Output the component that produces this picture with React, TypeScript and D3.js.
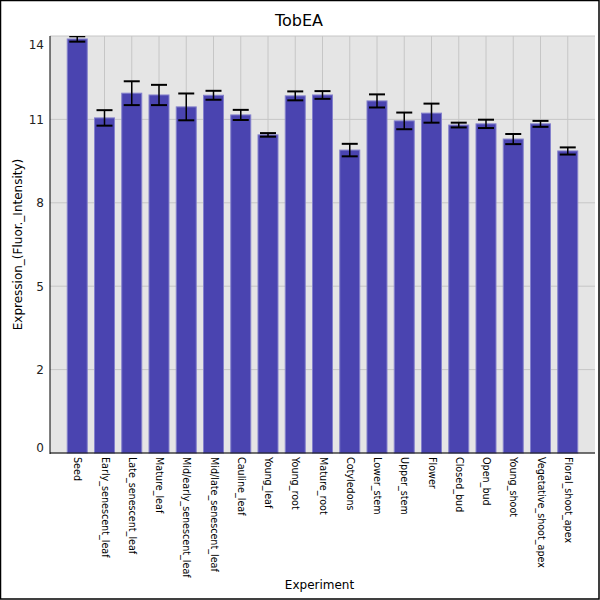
import { useEffect, useRef } from 'react'
import * as d3 from 'd3'

const CATEGORIES = [
  'Seed', 'Early_senescent_leaf', 'Late_senescent_leaf', 'Mature_leaf',
  'Mid/early_senescent_leaf', 'Mid/late_senescent_leaf', 'Cauline_leaf',
  'Young_leaf', 'Young_root', 'Mature_root', 'Cotyledons', 'Lower_stem',
  'Upper_stem', 'Flower', 'Closed_bud', 'Open_bud', 'Young_shoot',
  'Vegetative_shoot_apex', 'Floral_shoot_apex',
]
const MEANS = [
  13.9, 11.25, 12.08, 12.02, 11.62, 12.01, 11.35, 10.68, 11.99, 12.02,
  10.17, 11.82, 11.15, 11.41, 11.01, 11.05, 10.54, 11.05, 10.14,
]
const ERRORS = [
  0.09, 0.26, 0.4, 0.34, 0.45, 0.15, 0.17, 0.06, 0.15, 0.13,
  0.21, 0.22, 0.28, 0.32, 0.08, 0.14, 0.17, 0.1, 0.12,
]
const Y_TICKS = [0, 2.8, 5.6, 8.4, 11.2, 14]

export default function App() {
  const svgRef = useRef<SVGSVGElement>(null)
  const WIDTH = 600
  const HEIGHT = 600
  const M = { top: 36, right: 5, bottom: 147, left: 50 }
  const IW = WIDTH - M.left - M.right
  const IH = HEIGHT - M.top - M.bottom

  useEffect(() => {
    document.body.style.margin = '0'
    if (!svgRef.current) return
    const svg = d3.select(svgRef.current)
    svg.selectAll('*').remove()
    const font = '"DejaVu Sans", sans-serif'

    svg.append('rect').attr('width', WIDTH).attr('height', HEIGHT).attr('fill', '#fff')

    const x = d3.scalePoint<string>().domain(CATEGORIES).range([0, IW]).padding(1)
    const y = d3.scaleLinear().domain([0, 14]).range([IH, 0])

    const g = svg.append('g').attr('transform', `translate(${M.left},${M.top})`)
    g.append('rect').attr('width', IW).attr('height', IH).attr('fill', '#e5e5e5')

    // grid
    Y_TICKS.forEach(t =>
      g.append('line').attr('x1', 0).attr('x2', IW).attr('y1', y(t)).attr('y2', y(t))
        .attr('stroke', '#c6c6c6').attr('stroke-width', 1)
    )
    CATEGORIES.forEach(c =>
      g.append('line').attr('x1', x(c)!).attr('x2', x(c)!).attr('y1', 0).attr('y2', IH)
        .attr('stroke', '#c6c6c6').attr('stroke-width', 1)
    )

    // bars
    const bw = 20
    CATEGORIES.forEach((c, i) => {
      const cx = x(c)!
      g.append('rect')
        .attr('x', cx - bw / 2).attr('y', y(MEANS[i]))
        .attr('width', bw).attr('height', IH - y(MEANS[i]))
        .attr('fill', '#4a44b0').attr('stroke', '#8481cc').attr('stroke-width', 1)
    })

    // error bars
    const clip = g.append('clipPath').attr('id', 'plotclip')
    clip.append('rect').attr('width', IW).attr('height', IH)
    const eg = g.append('g').attr('clip-path', 'url(#plotclip)')
    CATEGORIES.forEach((c, i) => {
      const cx = x(c)!
      const hi = y(MEANS[i] + ERRORS[i])
      const lo = y(MEANS[i] - ERRORS[i])
      eg.append('line').attr('x1', cx).attr('x2', cx).attr('y1', hi).attr('y2', lo)
        .attr('stroke', '#000').attr('stroke-width', 1.5)
      ;[hi, lo].forEach(yy =>
        eg.append('line').attr('x1', cx - 8).attr('x2', cx + 8).attr('y1', yy).attr('y2', yy)
          .attr('stroke', '#000').attr('stroke-width', 2)
      )
    })

    // axes lines
    g.append('line').attr('x1', 0).attr('x2', 0).attr('y1', 0).attr('y2', IH + 1)
      .attr('stroke', '#000').attr('stroke-width', 1)
    g.append('line').attr('x1', 0).attr('x2', IW).attr('y1', IH).attr('y2', IH)
      .attr('stroke', '#000').attr('stroke-width', 1)

    // y tick labels (end labels kept inside the plot)
    Y_TICKS.forEach(t => {
      const yy = Math.min(Math.max(y(t), 9), IH - 5)
      g.append('text').attr('x', -6).attr('y', yy).attr('dy', '0.36em')
        .attr('text-anchor', 'end').attr('font-family', font).attr('font-size', 12)
        .attr('fill', '#222').text(String(Math.floor(t)))
    })

    // x tick labels
    CATEGORIES.forEach(c => {
      g.append('text')
        .attr('transform', `translate(${x(c)! - 3},${IH + 4}) rotate(90)`)
        .attr('font-family', font).attr('font-size', 9.6).attr('fill', '#000')
        .text(c)
    })

    // title and axis titles
    svg.append('text').attr('x', 299).attr('y', 26).attr('text-anchor', 'middle')
      .attr('font-family', font).attr('font-size', 16).attr('fill', '#000').text('TobEA')
    svg.append('text').attr('x', M.left + IW / 2 - 3).attr('y', 589).attr('text-anchor', 'middle')
      .attr('font-family', font).attr('font-size', 12).attr('fill', '#000').text('Experiment')
    svg.append('text').attr('transform', `translate(22,${M.top + IH / 2}) rotate(-90)`)
      .attr('text-anchor', 'middle').attr('font-family', font).attr('font-size', 12)
      .attr('fill', '#000').text('Expression_(Fluor._Intensity)')

    svg.append('rect').attr('x', 0.5).attr('y', 0.5).attr('width', WIDTH - 1.5).attr('height', HEIGHT - 1.5)
      .attr('fill', 'none').attr('stroke', '#000').attr('stroke-width', 1.5)
  }, [])

  return <svg ref={svgRef} width={WIDTH} height={HEIGHT} style={{ display: 'block' }} />
}
